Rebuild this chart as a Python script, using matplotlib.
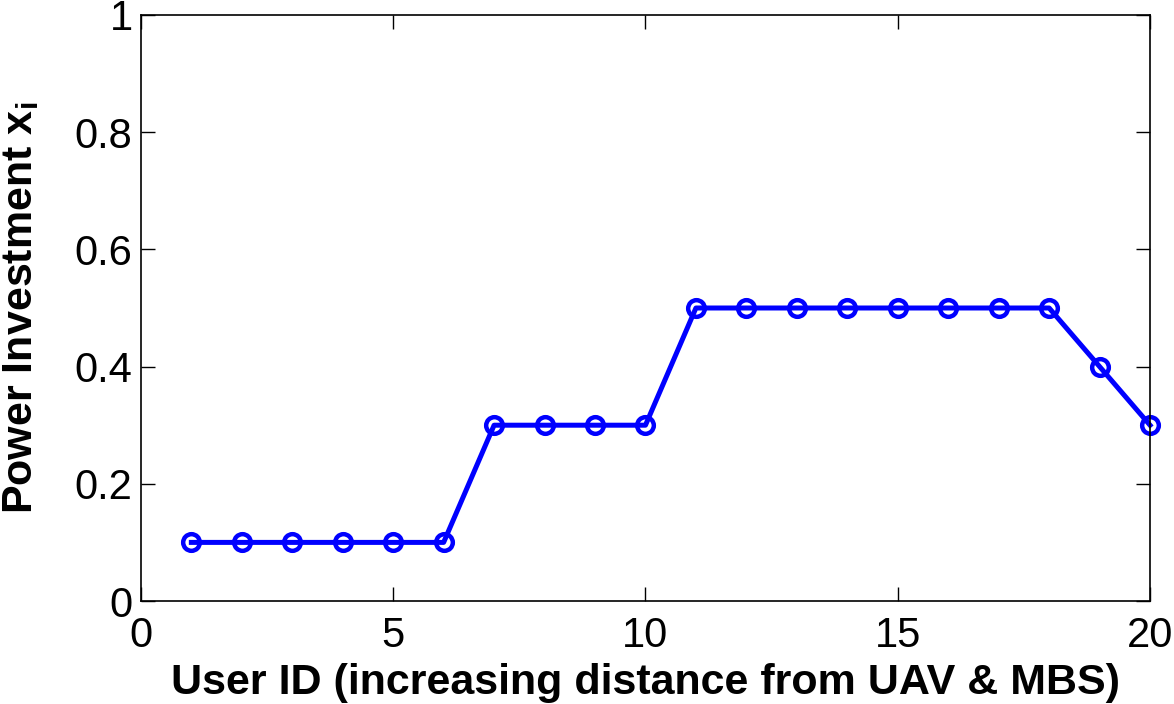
import matplotlib
matplotlib.use("Agg")
import matplotlib.pyplot as plt

plt.rcParams["font.family"] = ["Liberation Sans", "DejaVu Sans"]
plt.rcParams["mathtext.fontset"] = "custom"
plt.rcParams["mathtext.rm"] = "Liberation Sans"
plt.rcParams["mathtext.bf"] = "Liberation Sans:bold"

# data
user_id = list(range(1, 21))
power = [0.1, 0.1, 0.1, 0.1, 0.1, 0.1,
         0.3, 0.3, 0.3, 0.3,
         0.5, 0.5, 0.5, 0.5, 0.5, 0.5, 0.5, 0.5,
         0.4, 0.3]
xticks = [0, 5, 10, 15, 20]
yticks = [0, 0.2, 0.4, 0.6, 0.8, 1]
ytick_labels = ["0", "0.2", "0.4", "0.6", "0.8", "1"]

fig = plt.figure(figsize=(11.74, 7.04), dpi=100)
ax = fig.add_axes([0.120, 0.1463, 0.8596, 0.8324])

ax.plot(user_id, power, color="#0000ff", linewidth=3.6,
        marker="o", markersize=12, markerfacecolor="none",
        markeredgecolor="#0000ff", markeredgewidth=3.2, clip_on=False)

ax.set_xlim(0, 20)
ax.set_ylim(0, 1)
ax.set_xticks(xticks)
ax.set_yticks(yticks)
ax.set_yticklabels(ytick_labels)
ax.tick_params(direction="in", length=10, width=1, top=True, right=True,
               labelsize=30)
ax.tick_params(axis="x", pad=11)
ax.tick_params(axis="y", pad=6)
for sp in ax.spines.values():
    sp.set_linewidth(1.2)

ax.set_xlabel("User ID (increasing distance from UAV & MBS)",
              fontsize=31, fontweight="bold", labelpad=5)
ax.set_ylabel(r"Power Investment x$_\mathbf{i}$",
              fontsize=31, fontweight="bold", labelpad=24)

fig.savefig("out.png", dpi=100)
